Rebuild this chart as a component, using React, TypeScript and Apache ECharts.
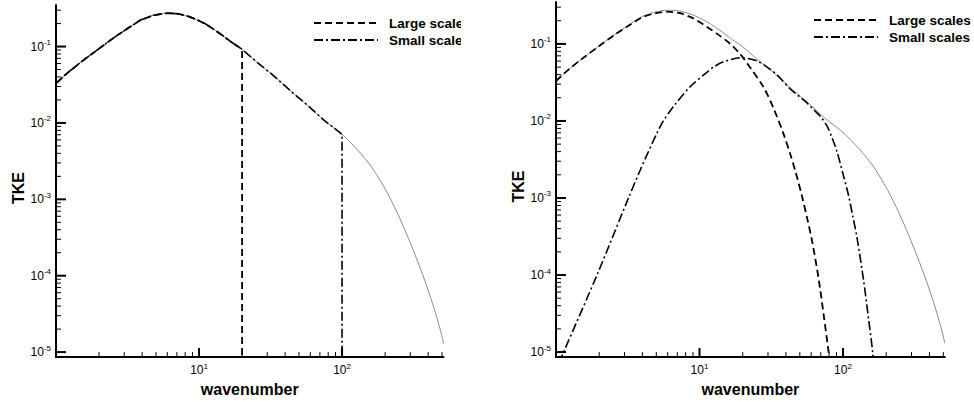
import React, { useEffect, useRef } from "react";
import * as echarts from "echarts";

// ---- axis ranges ----
const X_MIN = 1;
const X_MAX = 512;
const Y_MIN = 8.6e-6;
const Y_MAX = 0.35;
const BELOW_AXIS = 1e-6;

// ---- total TKE spectrum (thin grey line, both panels) ----
const TOTAL_K = [1, 1.2, 1.5, 2, 2.6, 3.2, 3.9, 4.8, 6, 7.2, 8.6, 10, 11.3, 13, 14.8, 17, 20, 25, 33, 45, 57, 75, 100, 130, 160, 200, 240, 280, 330, 380, 420, 460, 490, 512];
const TOTAL_E = [0.033, 0.045, 0.063, 0.094, 0.135, 0.175, 0.222, 0.257, 0.274, 0.268, 0.245, 0.218, 0.194, 0.163, 0.137, 0.113, 0.092, 0.064, 0.042, 0.025, 0.0172, 0.0108, 0.0071, 0.0043, 0.00268, 0.00137, 0.0007, 0.000366, 0.000172, 0.000085, 0.000049, 0.0000283, 0.0000185, 0.000013];

// ---- left panel: sharp spectral cut-offs ----
const SHARP_LARGE_CUTOFF = 20;
const SHARP_SMALL_CUTOFF = 100;

// ---- right panel: smooth filters ----
const SMOOTH_LARGE_K = [1, 1.2, 1.5, 2, 2.6, 3.2, 3.9, 4.8, 5.9, 7.2, 8.6, 10, 11.3, 13.2, 16.4, 19.2, 22.6, 28, 32.9, 38.5, 42.9, 47, 52, 57, 60.8, 67.6, 73.2, 79.4, 82];
const SMOOTH_LARGE_E = [0.033, 0.045, 0.063, 0.094, 0.134, 0.172, 0.217, 0.247, 0.262, 0.252, 0.224, 0.192, 0.166, 0.136, 0.1, 0.074, 0.049, 0.0273, 0.0144, 0.0068, 0.0037, 0.0021, 0.00102, 0.00049, 0.00028, 0.00009, 0.000031, 0.00001, 0.000006];
const SMOOTH_SMALL_K = [1.05, 1.13, 1.93, 3.2, 3.9, 5.06, 5.6, 6.6, 8.63, 11.3, 12.5, 14.7, 19.2, 25.2, 31, 35, 42.9, 50, 56.1, 62.4, 70, 77.3, 84, 90.8, 100, 109, 117, 125, 139, 151, 161, 165];
const SMOOTH_SMALL_E = [0.0000072, 0.00001, 0.0001, 0.001, 0.0024, 0.007, 0.01, 0.0155, 0.028, 0.043, 0.05, 0.0585, 0.066, 0.06, 0.047, 0.039, 0.026, 0.0205, 0.0172, 0.014, 0.0113, 0.0086, 0.006, 0.004, 0.00205, 0.0011, 0.00058, 0.00031, 0.000086, 0.000026, 0.0000099, 0.000005];

// ---- ticks ----
const X_MAJOR = [10, 100];
const X_MINOR = [2, 3, 4, 5, 6, 7, 8, 9, 20, 30, 40, 50, 60, 70, 80, 90, 200, 300, 400, 500];
const Y_MAJOR = [1e-5, 1e-4, 1e-3, 1e-2, 1e-1];
const Y_MINOR_MANTISSAS = [2, 3, 4, 5, 6, 7, 8, 9];
const Y_MINOR_DECADES = [1e-5, 1e-4, 1e-3, 1e-2];
const Y_MINOR_TOP = [0.2, 0.3];

const LEGEND_NAMES = ["Large scales", "Small scales"];
const X_NAME = "wavenumber";
const Y_NAME = "TKE";

const FONT = "Liberation Sans, Arial, Helvetica, sans-serif";

const zip = (ks: number[], es: number[]) => ks.map((k, i) => [k, es[i]]);

function sharpSeriesData(cut: number) {
  const pts = TOTAL_K.map((k, i) => [k, TOTAL_E[i]]).filter((p) => p[0] <= cut);
  pts.push([cut, BELOW_AXIS]);
  return pts;
}

const yMinor = Y_MINOR_DECADES.flatMap((d) => Y_MINOR_MANTISSAS.map((m) => +(m * d).toPrecision(3))).concat(Y_MINOR_TOP);

function tickSeries(gi: number, dir: "x" | "y", values: number[], len: number, width: number) {
  const data = values.map((v) => (dir === "x" ? [v, Y_MIN] : [X_MIN, v]));
  return {
    type: "custom",
    xAxisIndex: gi,
    yAxisIndex: gi,
    silent: true,
    z: 6,
    data,
    renderItem: (_p: any, api: any) => {
      const p = api.coord([api.value(0), api.value(1)]);
      return {
        type: "line",
        shape:
          dir === "x"
            ? { x1: p[0], y1: p[1], x2: p[0], y2: p[1] - len }
            : { x1: p[0], y1: p[1], x2: p[0] + len, y2: p[1] },
        style: { stroke: "#000", lineWidth: width },
      };
    },
  };
}

const labelFormatter = (v: number) => {
  const p = Math.log10(v);
  const r = Math.round(p);
  if (Math.abs(p - r) > 1e-6 || r === 0) return "";
  return `{b|10}{s|${r}}`;
};

const labelRich = {
  b: { fontFamily: FONT, fontSize: 12, lineHeight: 16, color: "#000" },
  s: { fontFamily: FONT, fontSize: 8, lineHeight: 8, verticalAlign: "top", color: "#000" },
};

function xAxis(gi: number) {
  return {
    type: "log",
    logBase: 10,
    gridIndex: gi,
    min: X_MIN,
    max: X_MAX,
    name: X_NAME,
    nameLocation: "middle",
    nameGap: 15,
    nameTextStyle: { fontFamily: FONT, fontSize: 16, fontWeight: "bold", color: "#000" },
    axisLine: { show: true, onZero: false, lineStyle: { color: "#000", width: 2 } },
    axisTick: { show: false },
    minorTick: { show: false },
    splitLine: { show: false },
    axisLabel: { formatter: labelFormatter, rich: labelRich, margin: 5 },
  };
}

function yAxis(gi: number) {
  return {
    type: "log",
    logBase: 10,
    gridIndex: gi,
    min: Y_MIN,
    max: Y_MAX,
    name: Y_NAME,
    nameLocation: "middle",
    nameGap: 28,
    nameTextStyle: { fontFamily: FONT, fontSize: 16, fontWeight: "bold", color: "#000", padding: [0, 14, 0, 0] },
    axisLine: { show: true, onZero: false, lineStyle: { color: "#000", width: 2 } },
    axisTick: { show: false },
    minorTick: { show: false },
    splitLine: { show: false },
    axisLabel: { formatter: labelFormatter, rich: labelRich, margin: 5 },
  };
}

const LARGE_STYLE = { color: "#000", width: 1.8, type: [7, 4] as any };
const SMALL_STYLE = { color: "#000", width: 1.6, type: [9, 3, 2, 3] as any };
const TOTAL_STYLE = { color: "#8a8a8a", width: 1 };

function lineSeries(gi: number, name: string, data: number[][], style: any, z: number, smooth: any) {
  return {
    type: "line",
    name,
    xAxisIndex: gi,
    yAxisIndex: gi,
    data,
    symbol: "none",
    showSymbol: false,
    smooth,
    clip: true,
    silent: true,
    z,
    lineStyle: style,
  };
}

function legend(left: number, top: number) {
  return {
    data: LEGEND_NAMES,
    orient: "vertical",
    left,
    top,
    padding: 0,
    itemWidth: 64,
    itemHeight: 14,
    itemGap: 3,
    selectedMode: false,
    itemStyle: { opacity: 0, color: "transparent", borderWidth: 0 },
    textStyle: { fontFamily: FONT, fontSize: 13.5, fontWeight: "bold", color: "#000", padding: [0, 0, 0, 6] },
  };
}

export default function App() {
  const ref = useRef<HTMLDivElement>(null);
  useEffect(() => {
    if (!ref.current) return;
    const chart = echarts.init(ref.current, undefined, { renderer: "svg" });
    const option: any = {
      animation: false,
      backgroundColor: "#fff",
      grid: [
        { left: 56, top: 5, width: 387.5, height: 358.2 },
        { left: 556, top: 2, width: 388.8, height: 359.5 },
      ],
      xAxis: [xAxis(0), xAxis(1)],
      yAxis: [yAxis(0), yAxis(1)],
      legend: [legend(313, 16), legend(813, 13)],
      graphic: [
        { type: "rect", z: 100, shape: { x: 461, y: 0, width: 28, height: 60 }, style: { fill: "#fff" } },
      ],
      series: [
        lineSeries(0, "Total", zip(TOTAL_K, TOTAL_E), TOTAL_STYLE, 2, 0.25),
        lineSeries(0, LEGEND_NAMES[1], sharpSeriesData(SHARP_SMALL_CUTOFF), SMALL_STYLE, 3, false),
        lineSeries(0, LEGEND_NAMES[0], sharpSeriesData(SHARP_LARGE_CUTOFF), LARGE_STYLE, 4, false),
        lineSeries(1, "Total", zip(TOTAL_K, TOTAL_E), TOTAL_STYLE, 2, 0.25),
        lineSeries(1, LEGEND_NAMES[0], zip(SMOOTH_LARGE_K, SMOOTH_LARGE_E), LARGE_STYLE, 4, 0.3),
        lineSeries(1, LEGEND_NAMES[1], zip(SMOOTH_SMALL_K, SMOOTH_SMALL_E), SMALL_STYLE, 3, 0.3),
        tickSeries(0, "x", X_MAJOR, 9, 2),
        tickSeries(0, "x", X_MINOR, 5, 1),
        tickSeries(0, "y", Y_MAJOR, 10, 2),
        tickSeries(0, "y", yMinor, 5, 1),
        tickSeries(1, "x", X_MAJOR, 9, 2),
        tickSeries(1, "x", X_MINOR, 5, 1),
        tickSeries(1, "y", Y_MAJOR, 10, 2),
        tickSeries(1, "y", yMinor, 5, 1),
      ],
    };
    chart.setOption(option);
    return () => chart.dispose();
  }, []);
  return (
    <div
      ref={ref}
      style={{ position: "fixed", left: 0, top: 0, width: 974, height: 402, background: "#fff" }}
    />
  );
}
